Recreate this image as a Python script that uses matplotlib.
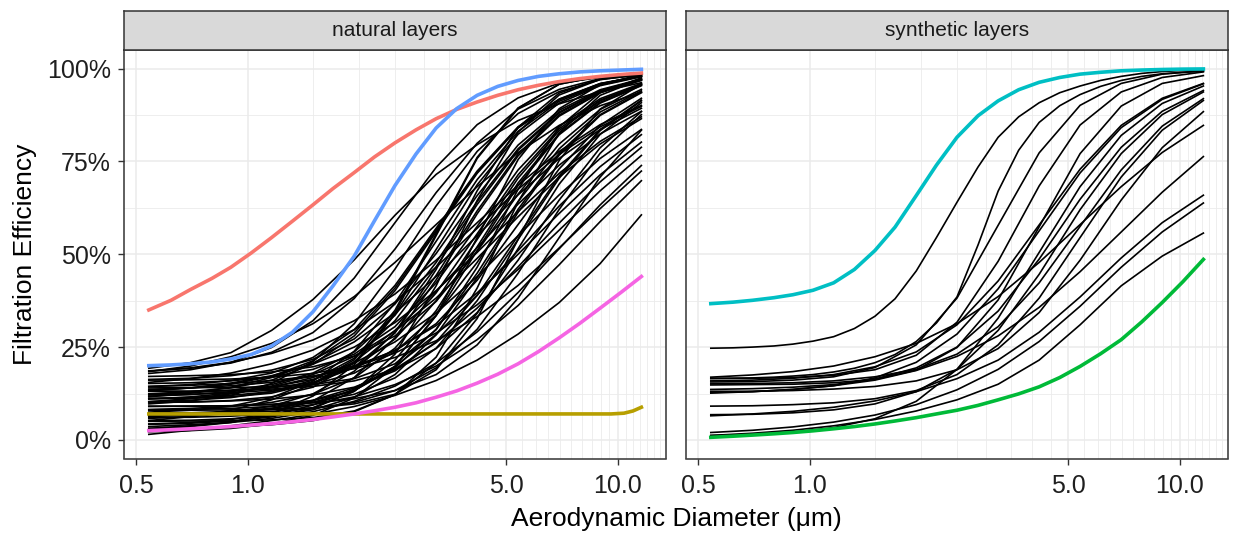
import numpy as np
import matplotlib
matplotlib.use("Agg")
import matplotlib.pyplot as plt
from matplotlib.ticker import FixedLocator, NullFormatter, FixedFormatter

plt.rcParams['font.family'] = ['Liberation Sans', 'DejaVu Sans']

# ---------------- data (filtration efficiency in %) ----------------
diameter_um = [0.54, 0.70, 0.90, 1.16, 1.50, 1.94, 2.50, 3.23, 4.17, 5.38, 6.95, 8.97, 11.59]
dense_diameter_um = [0.54, 0.62, 0.70, 0.80, 0.90, 1.02, 1.16, 1.32, 1.50, 1.70, 1.94, 2.20,
                     2.50, 2.85, 3.23, 3.67, 4.17, 4.74, 5.38, 6.11, 6.95, 7.90, 8.97, 10.2, 11.59]

natural_black = [
    [19.3, 20.8, 23.5, 29.5, 37.8, 48.5, 60.5, 71.5, 79.5, 86.0, 90.5, 93.8, 96.2],
    [17.9, 18.9, 20.9, 24.9, 32.1, 43.6, 58.5, 73.4, 84.9, 92.1, 96.1, 97.6, 98.6],
    [12.4, 13.0, 14.0, 16.1, 20.4, 28.0, 40.2, 56.0, 71.8, 84.0, 91.6, 95.9, 98.0],
    [18.4, 19.9, 22.4, 26.0, 31.3, 38.6, 47.8, 58.0, 68.2, 77.4, 84.7, 90.0, 93.6],
    [10.3, 10.7, 11.4, 13.0, 16.1, 22.0, 32.1, 46.6, 63.4, 78.0, 88.0, 93.9, 97.0],
    [8.2, 8.5, 9.0, 10.1, 12.3, 16.7, 24.7, 37.5, 54.0, 70.5, 83.3, 91.3, 95.7],
    [13.1, 13.1, 13.3, 14.0, 15.5, 19.6, 28.8, 45.9, 67.1, 84.2, 93.4, 97.2, 98.4],
    [6.3, 6.7, 7.5, 9.1, 12.4, 18.5, 29.0, 44.3, 61.7, 77.0, 87.5, 93.6, 96.9],
    [11.2, 11.4, 12.0, 13.0, 15.2, 19.5, 27.2, 39.6, 55.5, 71.4, 83.8, 91.5, 95.8],
    [15.5, 16.5, 18.0, 20.5, 24.2, 29.7, 37.1, 46.5, 57.0, 67.5, 76.9, 84.3, 89.8],
    [9.0, 9.1, 9.2, 9.6, 10.6, 13.3, 19.8, 33.5, 54.5, 75.5, 89.2, 95.7, 98.4],
    [4.2, 4.5, 5.1, 6.2, 8.5, 13.1, 21.5, 34.8, 52.0, 69.2, 82.5, 90.9, 95.5],
    [7.2, 7.3, 7.7, 8.5, 10.1, 13.3, 19.4, 29.8, 44.9, 62.1, 77.2, 87.6, 93.7],
    [15.2, 15.4, 15.9, 17.0, 19.0, 23.1, 30.5, 42.3, 57.5, 72.7, 84.5, 91.9, 96.0],
    [5.0, 5.1, 5.1, 5.4, 6.0, 7.8, 12.2, 22.3, 40.9, 64.1, 82.7, 92.8, 97.2],
    [13.2, 14.0, 15.3, 17.3, 20.4, 25.0, 31.6, 40.2, 50.5, 61.5, 71.8, 80.4, 87.0],
    [3.1, 3.2, 3.5, 4.1, 5.2, 7.6, 12.2, 20.7, 34.1, 51.5, 68.9, 82.3, 90.8],
    [10.1, 10.2, 10.5, 11.0, 12.1, 14.2, 18.6, 26.4, 38.9, 55.0, 71.1, 83.6, 91.5],
    [8.0, 8.0, 8.1, 8.2, 8.6, 9.7, 12.3, 18.9, 32.7, 54.0, 75.3, 89.1, 95.8],
    [8.1, 8.2, 8.5, 9.0, 10.1, 12.3, 16.7, 24.7, 37.5, 54.0, 70.5, 83.3, 91.3],
    [13.1, 13.1, 13.3, 13.7, 14.4, 15.9, 18.9, 24.6, 34.3, 48.4, 64.6, 78.7, 88.4],
    [3.1, 3.8, 4.8, 6.6, 9.4, 13.7, 19.8, 28.4, 39.0, 51.0, 63.0, 73.6, 82.2],
    [9.1, 9.1, 9.2, 9.5, 10.0, 11.1, 13.3, 17.6, 25.6, 38.2, 54.5, 70.8, 83.4],
    [5.8, 6.3, 7.2, 8.5, 10.7, 14.0, 19.1, 26.2, 35.5, 46.6, 58.4, 69.5, 78.8],
    [14.4, 14.7, 15.2, 16.0, 17.2, 19.2, 22.2, 26.7, 33.2, 41.6, 51.7, 62.3, 72.4],
    [3.6, 4.1, 4.7, 5.8, 7.6, 10.4, 14.5, 20.7, 29.1, 39.7, 51.5, 63.3, 73.9],
    [1.5, 2.6, 3.8, 5.2, 6.9, 9.0, 12.0, 16.0, 21.5, 28.5, 37.0, 47.5, 60.6],
    [6.5, 6.8, 7.3, 8.2, 9.5, 11.6, 14.9, 19.9, 27.0, 36.2, 47.2, 58.8, 69.8],
    [16.3, 16.6, 17.3, 18.8, 21.7, 27.2, 36.6, 50.2, 65.8, 79.4, 88.8, 94.3, 97.2],
    [3.0, 3.6, 4.7, 7.1, 11.8, 20.2, 33.8, 51.3, 68.7, 82.3, 90.7, 95.4, 97.8],
    [14.4, 14.9, 16.0, 18.0, 22.2, 29.7, 41.6, 57.0, 72.4, 84.3, 91.8, 96.0, 98.0],
    [9.7, 10.5, 12.0, 15.2, 21.1, 31.3, 46.0, 63.0, 77.7, 87.9, 93.8, 97.0, 98.5],
    [18.6, 19.3, 20.7, 23.6, 28.9, 38.1, 51.4, 66.6, 79.9, 89.1, 94.4, 97.3, 98.7],
    [11.1, 11.2, 11.6, 12.6, 15.2, 21.6, 34.9, 55.5, 76.1, 89.4, 95.8, 97.9, 98.6],
    [7.5, 8.0, 9.1, 11.4, 15.8, 23.9, 36.9, 53.5, 70.1, 83.1, 91.2, 95.6, 97.9],
    [12.1, 12.3, 12.7, 13.4, 14.9, 18.0, 23.7, 33.6, 47.8, 64.2, 78.4, 88.3, 94.0],
    [7.1, 7.2, 7.3, 7.7, 8.5, 10.1, 13.3, 19.4, 29.8, 44.9, 62.1, 77.2, 87.6],
    [11.6, 12.6, 14.2, 16.8, 20.7, 26.4, 34.2, 44.0, 55.0, 66.0, 75.8, 83.6, 89.3],
    [11.0, 11.6, 12.6, 14.2, 16.8, 20.7, 26.4, 34.2, 44.0, 55.0, 66.0, 75.8, 83.6],
    [13.6, 14.0, 14.6, 15.5, 17.1, 19.6, 23.4, 28.8, 36.4, 45.9, 56.5, 67.1, 76.6],
    [2.2, 2.5, 3.1, 4.3, 6.6, 11.3, 19.8, 33.5, 51.0, 68.5, 82.2, 90.7, 95.4],
    [18.5, 19.4, 20.9, 23.3, 26.9, 32.1, 39.3, 48.4, 58.5, 68.6, 77.7, 84.9, 90.1],
    [16.1, 16.2, 16.4, 16.9, 17.9, 19.9, 24.0, 31.3, 43.0, 58.0, 73.0, 84.7, 92.0],
    [4.3, 4.7, 5.5, 7.2, 10.5, 16.8, 27.5, 43.1, 60.9, 76.5, 87.2, 93.5, 96.8],
    [11.8, 12.2, 13.0, 14.3, 16.3, 19.5, 24.2, 30.8, 39.6, 50.0, 61.0, 71.4, 80.2],
    [6.1, 6.1, 6.4, 7.0, 8.7, 13.1, 23.1, 41.5, 64.5, 82.9, 92.9, 97.1, 98.3],
    [12.3, 12.7, 13.4, 14.9, 18.0, 23.7, 33.6, 47.8, 64.2, 78.4, 88.3, 94.0, 97.1],
    [14.0, 14.1, 14.1, 14.3, 14.9, 16.5, 20.5, 29.7, 46.5, 67.5, 84.3, 93.5, 97.5],
    [10.3, 11.1, 12.4, 14.5, 17.6, 22.5, 29.3, 38.2, 48.9, 60.1, 70.8, 79.7, 86.5],
    [17.1, 17.3, 17.6, 18.3, 19.7, 22.6, 28.0, 37.3, 50.8, 66.2, 79.7, 89.0, 94.4],
    [5.2, 5.3, 5.7, 6.5, 8.1, 11.5, 17.6, 28.3, 43.7, 61.3, 76.7, 87.4, 93.5],
    [10.1, 10.2, 10.6, 11.6, 14.2, 20.7, 34.2, 55.0, 75.8, 89.3, 95.8, 98.0, 98.4],
    [5.2, 6.3, 8.0, 10.8, 15.0, 21.1, 29.5, 40.0, 51.8, 63.5, 74.0, 82.4, 88.5],
    [13.4, 14.0, 15.0, 17.1, 21.3, 28.8, 40.9, 56.5, 72.1, 84.2, 91.7, 95.9, 98.0],
]
natural_red = [35.0, 37.6, 40.5, 43.5, 46.5, 50.3, 54.5, 58.9, 63.3, 67.7, 72.0, 76.2,
               80.0, 83.5, 86.5, 89.0, 91.0, 92.8, 94.3, 95.5, 96.5, 97.3, 97.9, 98.4, 98.8]
natural_blue = [20.0, 20.2, 20.5, 21.0, 21.8, 23.0, 25.3, 29.0, 34.5, 41.5, 49.5, 59.0,
                68.5, 77.0, 84.0, 89.2, 92.8, 95.2, 96.8, 97.9, 98.6, 99.1, 99.4, 99.6, 99.8]
natural_pink = [2.5, 2.75, 3.0, 3.3, 3.6, 4.0, 4.4, 4.9, 5.5, 6.2, 7.0, 7.85,
                8.8, 10.0, 11.5, 13.2, 15.3, 17.7, 20.5, 23.8, 27.5, 31.4, 35.5, 39.7, 44.0]
olive_diameter_um = [0.54, 9.6, 10.4, 11.0, 11.59]
natural_olive = [7.0, 7.0, 7.2, 7.8, 8.8]

synthetic_black_dense = [
    [24.7, 24.8, 25.0, 25.3, 25.8, 26.6, 27.8, 30.0, 33.3, 38.0, 45.5, 54.5,
     64.0, 73.5, 81.5, 87.0, 90.8, 93.5, 95.3, 96.8, 97.9, 98.7, 99.2, 99.5, 99.7],
    [16.5, 16.6, 16.7, 16.9, 17.2, 17.6, 18.3, 19.3, 20.8, 23.0, 26.5, 31.5,
     38.5, 52.5, 67.0, 78.0, 85.5, 90.0, 93.0, 95.2, 96.8, 97.9, 98.6, 99.0, 99.3],
]
synthetic_black = [
    [16.6, 16.6, 16.8, 17.4, 18.9, 22.8, 31.7, 48.1, 68.4, 84.8, 93.7, 97.6, 99.1],
    [15.9, 16.1, 16.6, 17.6, 19.7, 23.7, 31.0, 42.8, 57.9, 72.9, 84.7, 92.0, 96.0],
    [14.8, 14.9, 15.0, 15.4, 16.3, 18.8, 24.9, 37.7, 57.4, 77.1, 89.9, 96.0, 98.1],
    [13.6, 13.8, 14.2, 14.9, 16.4, 19.4, 25.0, 34.7, 48.7, 64.8, 78.8, 88.5, 94.1],
    [12.8, 13.0, 13.6, 14.6, 16.7, 20.9, 28.5, 40.7, 56.3, 71.9, 84.1, 91.7, 95.9],
    [9.1, 9.2, 9.5, 10.0, 11.1, 13.3, 17.6, 25.6, 38.2, 54.5, 70.8, 83.4, 91.4],
    [6.8, 6.9, 7.3, 8.1, 9.7, 13.0, 19.0, 29.5, 44.6, 62.0, 77.1, 87.6, 93.7],
    [16.9, 17.5, 18.4, 19.9, 22.4, 26.0, 31.3, 38.6, 47.8, 58.0, 68.2, 77.4, 84.7],
    [15.1, 15.2, 15.4, 15.9, 17.0, 19.0, 23.1, 30.5, 42.3, 57.5, 72.7, 84.5, 91.9],
    [12.6, 13.0, 13.6, 14.6, 16.1, 18.7, 22.5, 28.0, 35.7, 45.3, 56.0, 66.7, 76.3],
    [6.5, 7.0, 7.7, 8.8, 10.5, 13.0, 16.5, 21.5, 29.0, 38.5, 49.0, 58.5, 65.9],
    [2.0, 2.6, 3.5, 4.8, 6.7, 9.5, 13.5, 19.0, 26.5, 36.0, 46.5, 56.0, 63.8],
    [1.2, 1.8, 2.6, 3.8, 5.5, 7.8, 10.8, 15.0, 21.5, 31.0, 41.5, 49.5, 55.7],
    [1.2, 1.5, 2.1, 3.3, 5.7, 10.4, 19.0, 32.8, 50.5, 68.2, 82.0, 90.6, 95.3],
    [15.6, 15.7, 16.1, 17.0, 19.5, 25.6, 38.2, 57.8, 77.3, 90.1, 96.0, 98.5, 99.4],
    [13.1, 13.1, 13.3, 13.7, 14.4, 15.9, 18.9, 24.6, 34.3, 48.4, 64.6, 78.7, 88.4],
]
synthetic_cyan = [36.7, 37.1, 37.6, 38.3, 39.1, 40.3, 42.3, 45.9, 51.0, 57.3, 65.8, 74.0,
                  81.5, 87.3, 91.3, 94.3, 96.3, 97.6, 98.5, 99.0, 99.4, 99.6, 99.75, 99.85, 99.9]
synthetic_green = [0.7, 1.0, 1.3, 1.65, 2.0, 2.45, 3.0, 3.6, 4.3, 5.1, 6.0, 7.0,
                   8.0, 9.3, 10.8, 12.4, 14.3, 16.8, 19.8, 23.2, 27.0, 31.8, 37.0, 42.6, 48.6]

panel_titles = ["natural layers", "synthetic layers"]
x_ticks = [0.5, 1.0, 5.0, 10.0]
x_tick_labels = ["0.5", "1.0", "5.0", "10.0"]
y_ticks = [0, 25, 50, 75, 100]
y_tick_labels = ["0%", "25%", "50%", "75%", "100%"]
y_minor = [12.5, 37.5, 62.5, 87.5]
x_label = "Aerodynamic Diameter (\u03bcm)"
y_label = "Filtration Efficiency"

# ---------------- styles ----------------
C_RED, C_OLIVE, C_GREEN = "#F8766D", "#B79F00", "#00BA38"
C_CYAN, C_BLUE, C_PINK = "#00BFC4", "#619CFF", "#F564E3"
GRID = "#EBEBEB"
FRAME = "#333333"
BLACK_LW = 1.2
COL_LW = 2.6

W, H = 1238, 537
fig = plt.figure(figsize=(W / 100, H / 100), dpi=100)


def fx(px):
    return px / W


def fy(py):
    return 1 - py / H


panel_top, panel_bot, strip_top = 50, 458.5, 11
panels_px = [(124, 666), (686, 1228)]
x_minor = np.arange(1.5, 13.51, 0.5)

axes = []
for k, (x0, x1) in enumerate(panels_px):
    ax = fig.add_axes([fx(x0), fy(panel_bot), (x1 - x0) / W, (panel_bot - panel_top) / H])
    ax.set_xscale('log')
    ax.set_xlim(0.4627, 13.51)
    ax.set_ylim(-5, 105)
    ax.xaxis.set_major_locator(FixedLocator(x_ticks))
    ax.xaxis.set_major_formatter(FixedFormatter(x_tick_labels))
    ax.xaxis.set_minor_locator(FixedLocator(x_minor))
    ax.xaxis.set_minor_formatter(NullFormatter())
    ax.yaxis.set_major_locator(FixedLocator(y_ticks))
    ax.yaxis.set_major_formatter(FixedFormatter(y_tick_labels))
    ax.yaxis.set_minor_locator(FixedLocator(y_minor))
    ax.grid(which='major', color=GRID, lw=1.1, zorder=0)
    ax.grid(which='minor', color=GRID, lw=0.6, zorder=0)
    ax.set_axisbelow(True)
    ax.tick_params(which='minor', length=0)
    ax.tick_params(which='major', length=4.3, width=1.0, color=FRAME,
                   labelsize=18, labelcolor="#1F1F1F")
    ax.tick_params(axis='x', pad=7)
    ax.tick_params(axis='y', pad=5)
    if k == 1:
        ax.tick_params(axis='y', left=False, labelleft=False)
    for sp in ax.spines.values():
        sp.set_color(FRAME)
        sp.set_linewidth(1.1)
    axes.append(ax)

    # facet strip
    sax = fig.add_axes([fx(x0), fy(panel_top), (x1 - x0) / W, (panel_top - strip_top) / H])
    sax.set_facecolor("#D9D9D9")
    sax.set_xticks([])
    sax.set_yticks([])
    for sp in sax.spines.values():
        sp.set_color(FRAME)
        sp.set_linewidth(1.1)
    sax.text(0.5, 0.5, panel_titles[k], ha='center', va='center',
             fontsize=15, color="#1A1A1A", transform=sax.transAxes)

axL, axR = axes
for ys in natural_black:
    axL.plot(diameter_um, ys, color='black', lw=BLACK_LW, zorder=2)
axL.plot(olive_diameter_um, natural_olive, color=C_OLIVE, lw=COL_LW, zorder=3)
axL.plot(dense_diameter_um, natural_pink, color=C_PINK, lw=COL_LW, zorder=3)
axL.plot(dense_diameter_um, natural_red, color=C_RED, lw=COL_LW, zorder=3)
axL.plot(dense_diameter_um, natural_blue, color=C_BLUE, lw=COL_LW, zorder=3)

for ys in synthetic_black_dense:
    axR.plot(dense_diameter_um, ys, color='black', lw=BLACK_LW, zorder=2)
for ys in synthetic_black:
    axR.plot(diameter_um, ys, color='black', lw=BLACK_LW, zorder=2)
axR.plot(dense_diameter_um, synthetic_green, color=C_GREEN, lw=COL_LW, zorder=3)
axR.plot(dense_diameter_um, synthetic_cyan, color=C_CYAN, lw=COL_LW, zorder=3)

fig.text(fx(676), fy(526), x_label, ha='center', va='baseline', fontsize=19, color='black')
fig.text(fx(25), fy(254), y_label, ha='center', va='center', rotation=90,
         fontsize=19, color='black')

fig.savefig("out.png", dpi=100, facecolor='white')
